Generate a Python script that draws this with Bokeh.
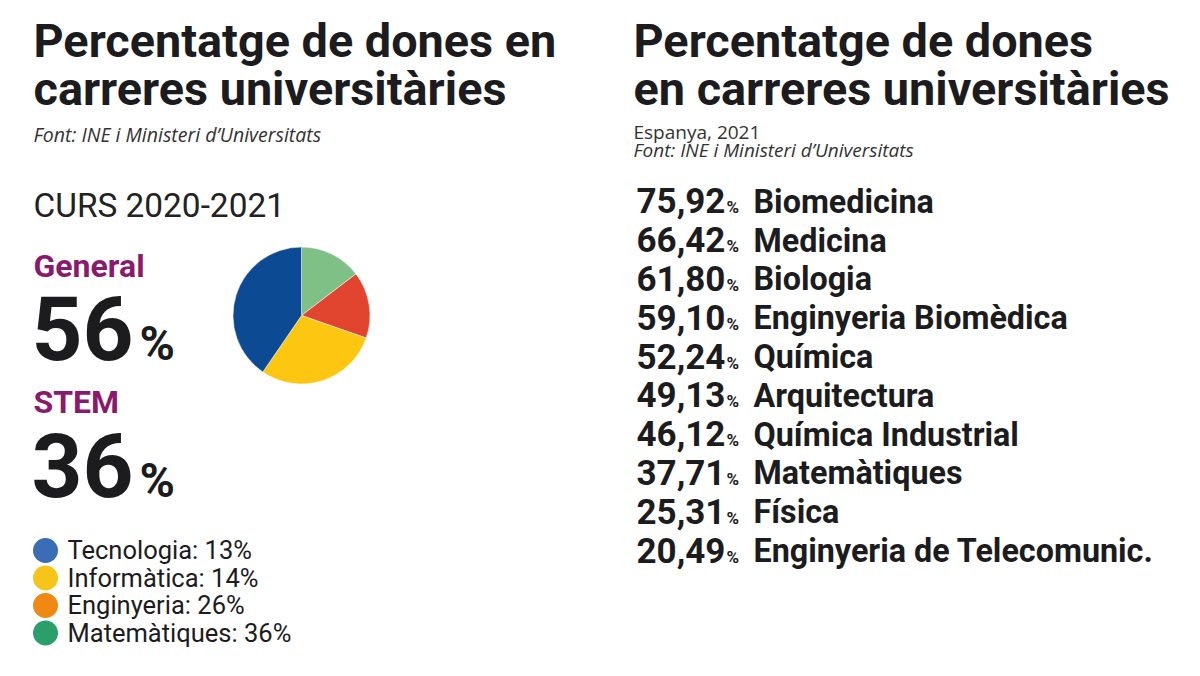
import math
from bokeh.plotting import figure
from bokeh.models import Range1d, ColumnDataSource
from bokeh.core.properties import value
from bokeh.embed import file_html
from bokeh.resources import INLINE

# ---------------- data ----------------
titol = ["Percentatge de dones en", "carreres universitàries"]
titol_dreta = ["Percentatge de dones", "en carreres universitàries"]
font_text = "Font: INE i Ministeri d\u2019Universitats"
subtitol_dreta = "Espanya, 2021"
curs = "CURS 2020-2021"

general_pct = 56
stem_pct = 36

stem_categories = ["Tecnologia", "Informàtica", "Enginyeria", "Matemàtiques"]
stem_values = [13, 14, 26, 36]
legend_colors = ["#3a6db6", "#f7c419", "#ef8911", "#2a9f6a"]
pie_colors = ["#7fc087", "#e2452f", "#fdc711", "#0c4a93"]

carreres = ["Biomedicina", "Medicina", "Biologia", "Enginyeria Biomèdica", "Química",
            "Arquitectura", "Química Industrial", "Matemàtiques", "Física",
            "Enginyeria de Telecomunic."]
percentatges = [75.92, 66.42, 61.80, 59.10, 52.24, 49.13, 46.12, 37.71, 25.31, 20.49]

# ---------------- figure ----------------
W, H = 1184, 660
p = figure(width=W, height=H, output_backend="svg", toolbar_location=None,
           x_range=Range1d(0, W), y_range=Range1d(H, 0),
           min_border=0)
p.axis.visible = False
p.grid.visible = False
p.outline_line_color = None
p.background_fill_color = "white"
p.border_fill_color = "white"

DARK = "#1c1c1e"
PURPLE = "#8a1a6d"
K = 0.36  # baseline correction (fraction of font size)

def by(baseline, size):
    return baseline - K * size

def txt(x, baseline, s, size, font="Roboto", style="normal", color=DARK, align="left"):
    p.text(x=[x], y=[by(baseline, size)], text=[s], text_font=value(font),
           text_font_size=f"{size}px", text_font_style=style, text_color=color,
           text_align=align, text_baseline="alphabetic")

# left titles
txt(33, 57, titol[0], 46.8, style="bold")
txt(33, 105, titol[1], 46.8, style="bold")
txt(33, 141, font_text, 19.5, font="Open Sans", style="italic", color="#333333")

txt(33, 217, curs, 33.4, color="#222222")
txt(33, 277, "General", 32, style="bold", color=PURPLE)
txt(31, 360, str(general_pct), 89, style="bold")
txt(139, 360, "%", 48, style="bold")
txt(33, 413, "STEM", 32, style="bold", color=PURPLE)
txt(31, 497, str(stem_pct), 89, style="bold")
txt(139, 497, "%", 48, style="bold")

# pie
total = sum(stem_values)
starts, ends = [], []
acc = 0.0
for v in stem_values:
    a0 = math.pi / 2 - 2 * math.pi * acc / total
    acc += v
    a1 = math.pi / 2 - 2 * math.pi * acc / total
    starts.append(a0)
    ends.append(a1)
pie_src = ColumnDataSource(dict(start=starts, end=ends, color=pie_colors, cat=stem_categories))
p.wedge(x=301, y=315, radius=68.5, start_angle="start", end_angle="end",
        direction="clock", fill_color="color", line_color="white", line_width=0.5,
        source=pie_src)

# legend
leg_y = [550 + 27.5 * i for i in range(len(stem_categories))]
p.scatter(x=[45] * len(stem_categories), y=leg_y, size=25, marker="circle",
          fill_color=legend_colors, line_color=None)
p.text(x=[67] * len(stem_categories), y=[by(y + 9, 25.5) for y in leg_y],
       text=[f"{c}: {v}%" for c, v in zip(stem_categories, stem_values)],
       text_font=value("Roboto"), text_font_size="25.5px", text_color=DARK,
       text_baseline="alphabetic")

# right titles
txt(633, 57, titol_dreta[0], 46.8, style="bold")
txt(633, 105, titol_dreta[1], 46.8, style="bold")
txt(633, 138, subtitol_dreta, 19, font="Open Sans", color="#333333")
txt(633, 156, font_text, 19, font="Open Sans", style="italic", color="#333333")

# list
n = len(carreres)
rows_base = [213 + 38.8 * i for i in range(n)]
list_src = ColumnDataSource(dict(
    y_num=[by(b, 35) for b in rows_base],
    y_pct=[by(b, 17) for b in rows_base],
    y_name=[by(b, 32.3) for b in rows_base],
    num=[f"{v:.2f}".replace(".", ",") for v in percentatges],
    pct=["%"] * n,
    name=carreres,
))
p.text(x=636, y="y_num", text="num", source=list_src, text_font=value("Roboto"),
       text_font_size="35px", text_font_style="bold", text_color=DARK,
       text_baseline="alphabetic")
p.text(x=726, y="y_pct", text="pct", source=list_src, text_font=value("Roboto"),
       text_font_size="17px", text_font_style="bold", text_color=DARK,
       text_baseline="alphabetic")
p.text(x=753, y="y_name", text="name", source=list_src, text_font=value("Roboto"),
       text_font_size="32.3px", text_font_style="bold", text_color=DARK,
       text_baseline="alphabetic")

open("out.html", "w").write(file_html(p, INLINE))
